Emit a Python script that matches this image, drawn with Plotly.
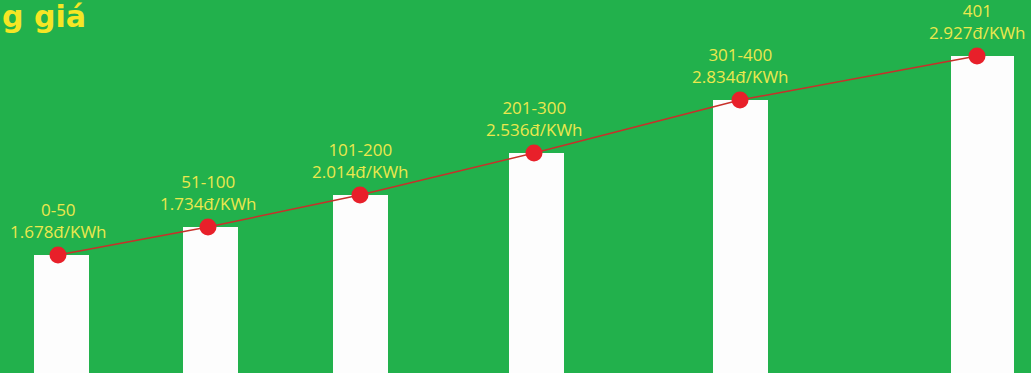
import plotly.graph_objects as go

# tiers and prices (labels), bar levels
tiers = ["0-50", "51-100", "101-200", "201-300", "301-400", "401"]
prices = ["1.678đ/KWh", "1.734đ/KWh", "2.014đ/KWh", "2.536đ/KWh", "2.834đ/KWh", "2.927đ/KWh"]
levels = [118, 146, 178, 220, 273, 317]

# horizontal placement of the columns (infographic spacing is uneven)
bar_x = [61, 210.5, 360, 536.5, 740, 982.5]
bar_w = [55, 55, 55, 55, 55, 63]
point_x = [58, 208, 360, 534, 740, 977]

GREEN = "#22b14c"
YELLOW = "#ebe84e"

fig = go.Figure()

fig.add_trace(
    go.Bar(
        x=bar_x,
        y=levels,
        width=bar_w,
        marker=dict(color="#fdfdfd", line=dict(width=0)),
        hoverinfo="skip",
    )
)

fig.add_trace(
    go.Scatter(
        x=point_x,
        y=levels,
        mode="lines+markers",
        line=dict(color="#c8302a", width=1.5),
        marker=dict(size=17, color="#e8202a"),
    )
)

# two-line labels above each point
label_font = dict(family="Open Sans", size=17, color=YELLOW)
for x, y, t, p in zip(point_x, levels, tiers, prices):
    fig.add_annotation(x=x, y=y, text=f"{t}<br>{p}", showarrow=False,
                       yanchor="middle", yshift=35, font=label_font)

fig.add_annotation(
    text="<b>g giá</b>",
    xref="paper", yref="paper",
    x=0, y=1,
    xanchor="left", yanchor="top",
    xshift=0, yshift=3,
    showarrow=False,
    font=dict(family="DejaVu Sans", size=30, color="#f5e625"),
)

fig.update_layout(
    width=1031,
    height=373,
    margin=dict(l=0, r=0, t=0, b=0),
    paper_bgcolor=GREEN,
    plot_bgcolor=GREEN,
    showlegend=False,
    xaxis=dict(range=[0, 1031], visible=False, fixedrange=True),
    yaxis=dict(range=[0, 373], visible=False, fixedrange=True),
    bargap=0,
)

fig.write_html("out.html", config={"displayModeBar": False},
               post_script="document.body.style.margin='0';")
